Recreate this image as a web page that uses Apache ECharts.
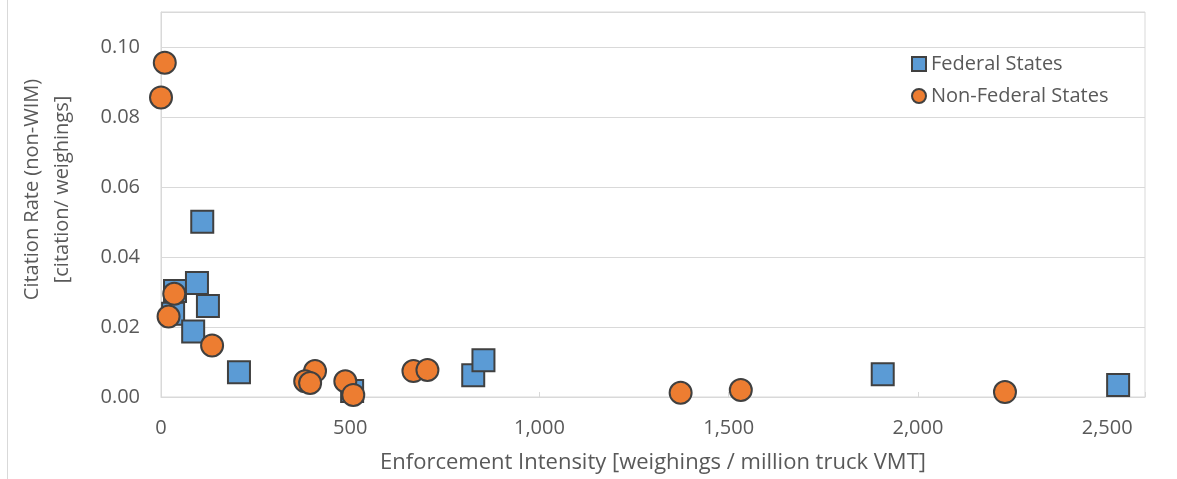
<!DOCTYPE html>
<html>
<head>
<meta charset="utf-8">
<script src="https://cdn.jsdelivr.net/npm/echarts@6/dist/echarts.min.js"></script>
<style>
  html, body { margin: 0; padding: 0; background: #fff; }
  #chart { width: 1177px; height: 479px; }
</style>
</head>
<body>
<div id="chart"></div>
<script>
// Federal States: [intensity, citation rate]
var federalStates = [
    [109, 0.0501], [37, 0.0303], [95, 0.0326], [124, 0.0260], [32, 0.0238],
    [85, 0.0187], [206, 0.0071], [505, 0.0017], [825, 0.0062], [852, 0.0105],
    [1907, 0.0065], [2529, 0.0034]
];

// Non-Federal States: [intensity, citation rate]
var nonFederalStates = [
    [10, 0.0955], [0, 0.0856], [35, 0.0295], [20, 0.0230], [135, 0.0147],
    [407, 0.0074], [381, 0.0045], [394, 0.0040], [487, 0.0045], [508, 0.0006],
    [667, 0.0074], [704, 0.0077], [1373, 0.0012], [1532, 0.0020], [2230, 0.0014]
];

var seriesNames = ['Federal States', 'Non-Federal States'];

var fontFamily = '"Open Sans", "Liberation Sans", sans-serif';
var textGrey = '#595959';

function initScatter() {
    var chart = echarts.init(document.getElementById('chart'));
    var option = {
        animation: false,
        textStyle: { fontFamily: fontFamily },
        grid: {
            left: 161, top: 12, right: 32, bottom: 80,
            show: true,
            borderColor: '#d9d9d9',
            borderWidth: 1
        },
        legend: {
            data: [
                { name: seriesNames[0], icon: 'rect' },
                { name: seriesNames[1], icon: 'circle' }
            ],
            orient: 'vertical',
            left: 906,
            top: 49,
            itemWidth: 14,
            itemHeight: 14,
            itemGap: 12,
            textStyle: { color: textGrey, fontSize: 20, fontFamily: fontFamily }
        },
        graphic: [{
            type: 'line',
            shape: { x1: 7.5, y1: 0, x2: 7.5, y2: 479 },
            style: { stroke: '#d9d9d9', lineWidth: 1 }
        }],
        xAxis: {
            type: 'value',
            min: 0,
            max: 2600,
            interval: 500,
            name: 'Enforcement Intensity [weighings / million truck VMT]',
            nameLocation: 'middle',
            nameGap: 55,
            nameTextStyle: { color: textGrey, fontSize: 22 },
            axisLine: { show: true, lineStyle: { color: '#d9d9d9' } },
            axisTick: { show: true, inside: true, length: 5, lineStyle: { color: '#d9d9d9' } },
            axisLabel: {
                color: textGrey, fontSize: 20, margin: 21,
                formatter: function (v) { return v > 2500 ? '' : v.toLocaleString('en-US'); }
            },
            splitLine: { show: false }
        },
        yAxis: {
            type: 'value',
            min: 0,
            max: 0.11,
            interval: 0.02,
            name: 'Citation Rate (non-WIM)\n[citation/ weighings]',
            nameLocation: 'middle',
            nameGap: 84,
            nameTextStyle: { color: textGrey, fontSize: 20, lineHeight: 30, padding: [0, 0, 0, 30] },
            axisLine: { show: true, lineStyle: { color: '#d9d9d9' } },
            axisTick: { show: false },
            axisLabel: {
                color: textGrey, fontSize: 20, margin: 21,
                formatter: function (v) { return v > 0.105 ? '' : v.toFixed(2); }
            },
            splitLine: { show: true, lineStyle: { color: '#d9d9d9' } }
        },
        series: [{
            name: seriesNames[0],
            type: 'scatter',
            symbol: 'rect',
            symbolSize: 22,
            data: federalStates,
            itemStyle: { color: '#5b9bd5', borderColor: '#404040', borderWidth: 2, opacity: 1 }
        }, {
            name: seriesNames[1],
            type: 'scatter',
            symbol: 'circle',
            symbolSize: 22,
            data: nonFederalStates,
            itemStyle: { color: '#ed7d31', borderColor: '#404040', borderWidth: 2, opacity: 1 }
        }]
    };
    chart.setOption(option);
}

initScatter();
</script>
</body>
</html>
